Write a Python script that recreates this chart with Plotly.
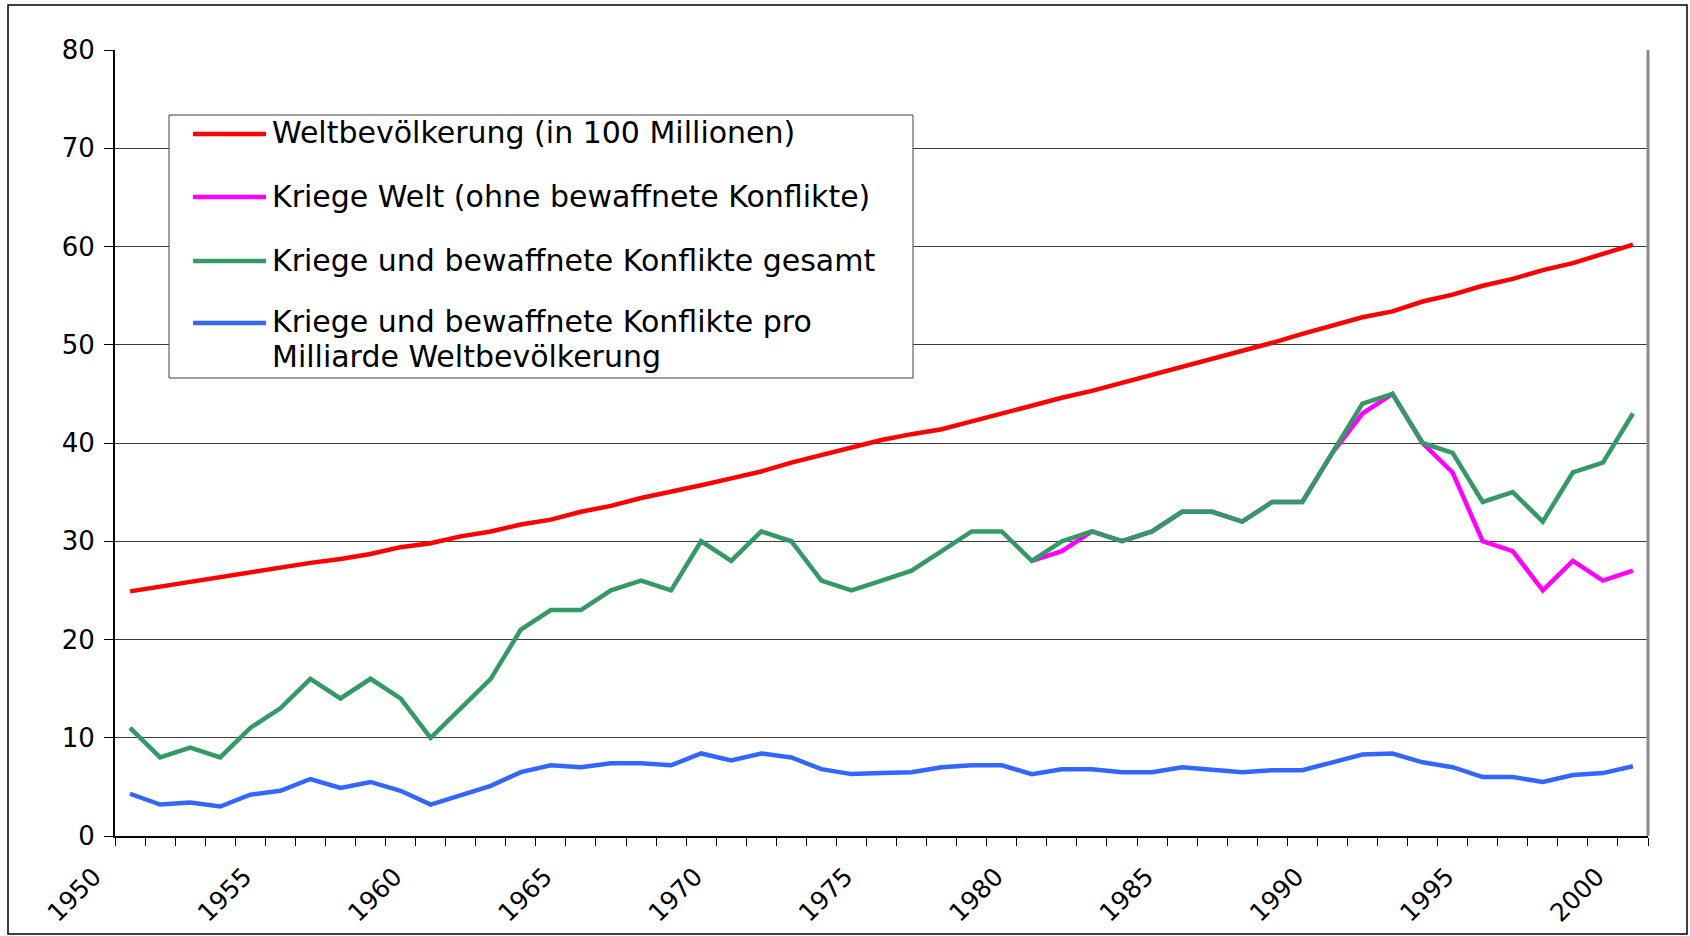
import plotly.graph_objects as go

# ---------------- data ----------------
years = list(range(1950, 2001))

population = [24.9, 25.4, 25.9, 26.3, 26.8, 27.3, 27.8, 28.2, 28.7, 29.4,
              29.8, 30.5, 31.0, 31.7, 32.2, 33.0, 33.6, 34.4, 35.0, 35.7,
              36.4, 37.1, 38.0, 38.8, 39.5, 40.3, 40.9, 41.4, 42.2, 43.0,
              43.9, 44.6, 45.3, 46.1, 47.0, 47.7, 48.5, 49.3, 50.2, 51.1,
              52.0, 52.8, 53.4, 54.4, 55.1, 56.0, 56.7, 57.6, 58.3, 59.3,
              60.2]

wars_years = list(range(1980, 2001))
wars = [28, 29, 31, 30, 31, 33, 33, 32, 34, 34,
        39, 43, 45, 40, 37, 30, 29, 25, 28, 26,
        27]

conflicts_total = [11, 8, 9, 8, 11, 13, 16, 14, 16, 14,
                   10, 13, 16, 21, 23, 23, 25, 26, 25, 30,
                   28, 31, 30, 26, 25, 26, 27, 29, 31, 31,
                   28, 30, 31, 30, 31, 33, 33, 32, 34, 34,
                   39, 44, 45, 40, 39, 34, 35, 32, 37, 38,
                   43]

conflicts_per_billion = [4.3, 3.2, 3.4, 3.0, 4.2, 4.6, 5.8, 4.9, 5.5, 4.6,
                         3.2, 4.2, 5.1, 6.5, 7.2, 7.0, 7.4, 7.4, 7.2, 8.4,
                         7.7, 8.4, 8.0, 6.8, 6.3, 6.4, 6.5, 7.0, 7.2, 7.2,
                         6.3, 6.8, 6.8, 6.5, 6.5, 7.0, 6.8, 6.5, 6.7, 6.7,
                         7.5, 8.3, 8.4, 7.5, 7.0, 6.0, 6.0, 5.5, 6.2, 6.4,
                         7.1]

series_names = [
    "Weltbevölkerung (in 100 Millionen)",
    "Kriege Welt (ohne bewaffnete Konflikte)",
    "Kriege und bewaffnete Konflikte gesamt",
    "Kriege und bewaffnete Konflikte pro Milliarde Weltbevölkerung",
]
legend_lines = [
    ["Weltbevölkerung (in 100 Millionen)"],
    ["Kriege Welt (ohne bewaffnete Konflikte)"],
    ["Kriege und bewaffnete Konflikte gesamt"],
    ["Kriege und bewaffnete Konflikte pro", "Milliarde Weltbevölkerung"],
]
series_colors = ["#FF0000", "#FF00FF", "#339966", "#3366FF"]

x_labels = list(range(1950, 2001, 5))
y_ticks = list(range(0, 81, 10))

# ---------------- figure ----------------
W, H = 1690, 936
ML, MR, MT, MB = 115, 42, 50, 100
PW, PH = W - ML - MR, H - MT - MB

FONT = "DejaVu Sans"


def px(x):
    return (x - ML) / PW


def py(y):
    return (H - MB - y) / PH


fig = go.Figure()
series = [(years, population), (wars_years, wars),
          (years, conflicts_total), (years, conflicts_per_billion)]
for (xs, ys), name, col in zip(series, series_names, series_colors):
    fig.add_trace(go.Scatter(x=xs, y=ys, mode="lines", name=name,
                             line=dict(color=col, width=4.5),
                             showlegend=False, hoverinfo="x+y+name"))

shapes = []
annotations = []

# outer chart border
shapes.append(dict(type="rect", xref="paper", yref="paper",
                   x0=px(8), x1=px(1687), y0=py(934), y1=py(5),
                   line=dict(color="black", width=1.5), fillcolor="rgba(0,0,0,0)",
                   layer="below"))
# right plot border (grey)
shapes.append(dict(type="line", xref="paper", yref="paper",
                   x0=1, x1=1, y0=0, y1=1,
                   line=dict(color="#8c8c8c", width=3)))

# manual legend box
shapes.append(dict(type="rect", xref="paper", yref="paper",
                   x0=px(169), x1=px(913), y0=py(378), y1=py(115),
                   line=dict(color="#404040", width=1), fillcolor="white",
                   layer="above"))
row_y = [134, 197, 261, 323]
text_rows = [[133], [196], [260], [321, 356]]
for lines, col, ly, tys in zip(legend_lines, series_colors, row_y, text_rows):
    shapes.append(dict(type="line", xref="paper", yref="paper",
                       x0=px(193), x1=px(266), y0=py(ly), y1=py(ly),
                       line=dict(color=col, width=4.5), layer="above"))
    for txt, ty in zip(lines, tys):
        annotations.append(dict(xref="paper", yref="paper", x=px(270), y=py(ty),
                                text=txt, showarrow=False, xanchor="left",
                                yanchor="middle", align="left",
                                font=dict(family=FONT, size=30, color="black")))

fig.update_layout(
    width=W, height=H, autosize=False,
    margin=dict(l=ML, r=MR, t=MT, b=MB, pad=0, autoexpand=False),
    paper_bgcolor="white", plot_bgcolor="white",
    font=dict(family=FONT, color="black"),
    showlegend=False,
    shapes=shapes,
    annotations=annotations,
)

fig.update_xaxes(
    type="linear", range=[1949.5, 2000.5], automargin=False,
    tickmode="array", tickvals=x_labels, ticktext=[str(v) for v in x_labels],
    ticks="", tickangle=-45, ticklabelstandoff=14, ticklabelshift=-36,
    tickfont=dict(family=FONT, size=25, color="black"),
    showgrid=False, zeroline=False,
    showline=True, linecolor="black", linewidth=2,
    minor=dict(tickmode="array", tickvals=[y - 0.5 for y in years] + [years[-1] + 0.5],
               ticks="outside", ticklen=8, tickwidth=1, tickcolor="black",
               showgrid=False),
)

fig.update_yaxes(
    range=[0, 80], automargin=False, tickmode="array", tickvals=y_ticks,
    ticks="outside", ticklen=9, tickwidth=1, tickcolor="black",
    ticklabelstandoff=4,
    tickfont=dict(family=FONT, size=26, color="black"),
    showgrid=True, gridcolor="#3a3a3a", gridwidth=1,
    zeroline=False,
    showline=True, linecolor="black", linewidth=2,
)

fig.write_html("out.html",
               config={"displayModeBar": False},
               post_script="document.body.style.margin='0';"
                           "document.body.style.overflow='hidden';")
